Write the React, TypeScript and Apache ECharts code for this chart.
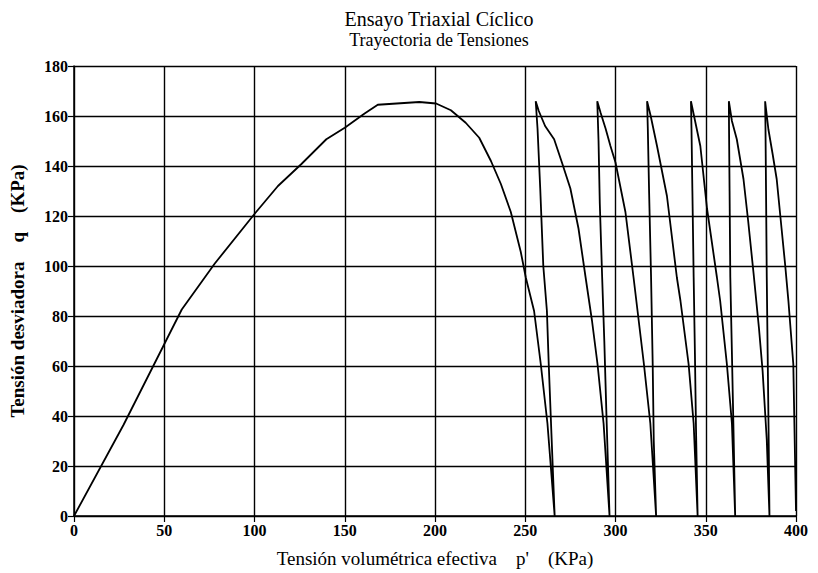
import React, { useEffect, useRef } from "react";
import * as echarts from "echarts";

// Stress path: p' (KPa) and q (KPa), in drawing order
const pValues: number[] = [
  0, 27.4, 49.5, 59.7, 78, 100.2, 113, 126, 139.8, 150, 161, 168.3, 191.3, 200.6, 208.8, 217, 224.5, 231, 236.5, 242, 247.5, 250.3, 254.9, 258.6, 262.3, 266.3,
  264.5, 263, 262, 260, 258.3, 256.8, 255.8,
  257.5, 261, 266, 270.5, 275, 279.5, 283.4, 287, 290, 293.4, 296.7,
  295, 293.8, 292.6, 291.3, 290.6, 289.9,
  291.7, 294.5, 297.2, 300, 305.5, 310, 315.7, 319.3, 322.5,
  321.2, 320.6, 319.7, 318.6, 317.9, 317.5,
  319.5, 323, 328.5, 334, 336, 340.5, 343.3, 345.5,
  344.6, 344, 343.3, 342.6, 342.1, 341.8,
  343.8, 347, 350.7, 356.2, 358, 361.7, 364.5, 366.3,
  365.3, 364.5, 363.6, 363.2, 362.9, 362.8,
  364.5, 367.2, 370.9, 373.5, 376.5, 379.5, 381.5, 383.8, 385.3,
  384.8, 384.3, 383.8, 383.4, 383.1, 382.9,
  384.7, 387, 389.3, 392, 394, 395.8, 398.5, 400,
];
const qValues: number[] = [
  0, 36.4, 68, 82.6, 101, 121, 132, 140.8, 150.7, 155.3, 161, 164.5, 165.6, 165, 162.3, 157.3, 151.3, 142, 132.8, 121.6, 105.7, 95.4, 82, 60.8, 37, 0,
  33, 61, 82, 100, 131, 155, 165.9,
  162, 156, 150.7, 141, 131, 115, 95.6, 78, 61, 37, 0,
  40, 70, 95.6, 125, 150, 165.9,
  161.4, 155, 148, 141.4, 121.6, 95.4, 61, 37, 0,
  30, 61, 95.6, 130, 155, 165.9,
  160, 148, 128, 95.4, 86, 60.8, 37, 0,
  35, 65, 95.6, 130, 155, 165.9,
  159, 148, 123, 95.4, 86, 60.8, 37, 0,
  37, 65, 95.6, 130, 155, 165.9,
  158, 150.7, 134.8, 118, 97, 75, 58, 30.5, 0,
  35, 65, 95.6, 130, 155, 165.9,
  154.7, 145, 134.8, 115, 100.4, 86, 60.8, 2,
];

const xTicks = [0, 50, 100, 150, 200, 250, 300, 350, 400];
const yTicks = [0, 20, 40, 60, 80, 100, 120, 140, 160, 180];

const FONT = "Liberation Serif";

export default function App() {
  const ref = useRef<HTMLDivElement>(null);
  useEffect(() => {
    if (!ref.current) return;
    const chart = echarts.init(ref.current, null, { renderer: "svg" });
    const data = pValues.map((p, i) => [p, qValues[i]]);
    chart.setOption({
      animation: false,
      backgroundColor: "#ffffff",
      title: [
        {
          text: "Ensayo Triaxial Cíclico",
          left: 434,
          top: 4,
          textAlign: "center",
          textStyle: { fontFamily: FONT, fontSize: 20, fontWeight: "normal", color: "#000" },
        },
        {
          text: "Trayectoria de Tensiones",
          left: 434,
          top: 26,
          textAlign: "center",
          textStyle: { fontFamily: FONT, fontSize: 18, fontWeight: "normal", color: "#000" },
        },
      ],
      grid: { left: 72, right: 22, top: 66, bottom: 53, containLabel: false },
      xAxis: {
        type: "value",
        min: xTicks[0],
        max: xTicks[xTicks.length - 1],
        interval: 50,
        name: "Tensión volumétrica efectiva    p'    (KPa)",
        nameLocation: "middle",
        nameGap: 33,
        nameTextStyle: { fontFamily: FONT, fontSize: 19, color: "#000" },
        axisLine: { show: true, lineStyle: { color: "#000", width: 1.5 } },
        axisTick: { show: true, length: 6, lineStyle: { color: "#000", width: 1.2 } },
        axisLabel: { fontFamily: FONT, fontSize: 16, fontWeight: "bold", color: "#000", margin: 6 },
        splitLine: { show: true, lineStyle: { color: "#000", width: 1.4 } },
      },
      yAxis: {
        type: "value",
        min: yTicks[0],
        max: yTicks[yTicks.length - 1],
        interval: 20,
        name: "Tensión desviadora    q    (KPa)",
        nameLocation: "middle",
        nameGap: 47,
        nameTextStyle: { fontFamily: FONT, fontSize: 19, fontWeight: "bold", color: "#000" },
        axisLine: { show: true, lineStyle: { color: "#000", width: 1.5 } },
        axisTick: { show: true, length: 6, lineStyle: { color: "#000", width: 1.2 } },
        axisLabel: { fontFamily: FONT, fontSize: 16, fontWeight: "bold", color: "#000", margin: 6 },
        splitLine: { show: true, lineStyle: { color: "#000", width: 1.4 } },
      },
      series: [
        {
          type: "line",
          data,
          showSymbol: false,
          symbol: "none",
          smooth: false,
          lineStyle: { color: "#000", width: 1.8 },
        },
      ],
    });
    return () => chart.dispose();
  }, []);
  return <div ref={ref} style={{ width: 818, height: 573, position: "absolute", left: 0, top: 0 }} />;
}
